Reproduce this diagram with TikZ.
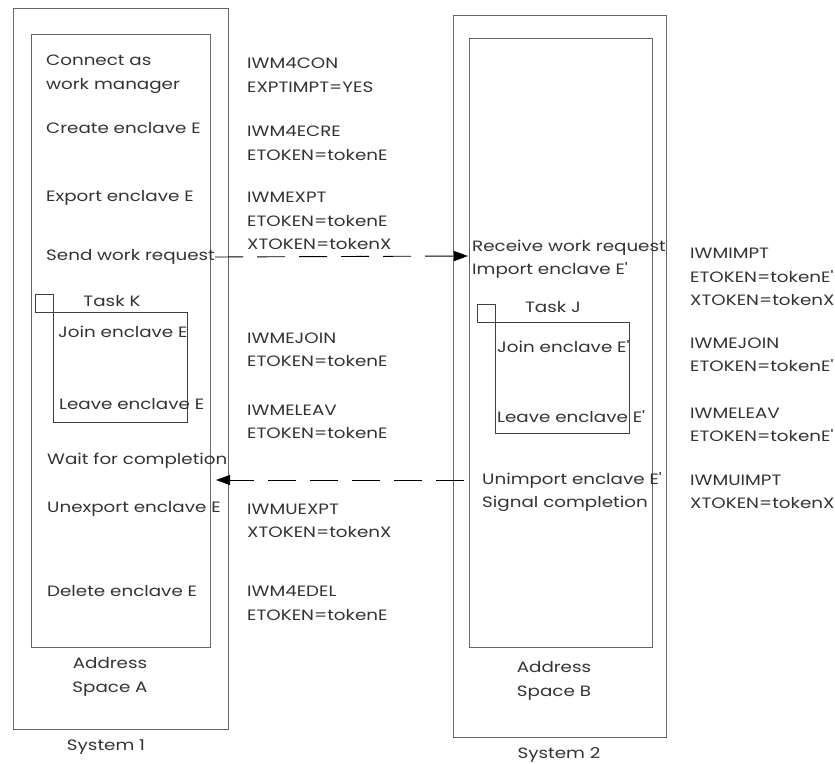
\documentclass[tikz,border=0pt]{standalone}
\usepackage{fontspec}
\setmainfont[Ligatures=TeXOff, FakeStretch=1.22]{Poppins}
\usetikzlibrary{positioning, arrows.meta}
\tikzset{
x=1pt, y=-1pt, % one unit is one pixel of the sketch, y grows downwards
frame/.style={draw=black!60, line width=1.2pt, anchor=north west, inner sep=0pt}, % system and address space boxes
task/.style={draw=black!75, line width=0.8pt, anchor=north west, inner sep=0pt}, % task boxes
lbl/.style={anchor=west, inner sep=0pt, text=black!80, align=left, font=\fontsize{15}{23.5}\selectfont}, % texts
undertext/.style={inner sep=0pt, text=black!80, align=center, font=\fontsize{15}{23.5}\selectfont}, % captions under boxes
flow/.style={-{Triangle[length=14pt,width=10pt]}, line width=0.9pt, dash pattern=on 28pt off 14pt}, % messages
}
\begin{document}
\begin{tikzpicture}
\useasboundingbox (0,0) rectangle (835,763);

% system 1
\node[frame, minimum width=215pt, minimum height=721pt] (sys1) at (13,8) {};
\node[frame, minimum width=179pt, minimum height=613pt] (asA) at (31,34) {};
\node[undertext] (capA) at (110,677) {Address\\Space A};
\node[undertext] (capS1) at (106,747) {System 1};

\node[lbl] (connect) at (46,74) {Connect as\\work manager};
\node[lbl] (create) at (46,128) {Create enclave E};
\node[lbl] (export) at (46,198) {Export enclave E};
\node[lbl] (send) at (46,257) {Send work request};
\node[task, minimum width=18pt, minimum height=18pt] (sqK) at (35,294) {};
\node[task, minimum width=134pt, minimum height=110pt] (taskK) at (53,312) {};
\node[undertext] (lblK) at (112,301) {Task K};
\node[lbl] (joinK) at (58,332) {Join enclave E};
\node[lbl] (leaveK) at (59,404) {Leave enclave E};
\node[lbl] (wait) at (47,461) {Wait for completion};
\node[lbl] (unexport) at (47,509) {Unexport enclave E};
\node[lbl] (delete) at (47,591) {Delete enclave E};

\node[lbl] (mCon) at (247,75) {IWM4CON\\EXPTIMPT=YES};
\node[lbl] (mCre) at (247,143) {IWM4ECRE\\ETOKEN=tokenE};
\node[lbl] (mExp) at (247,221) {IWMEXPT\\ETOKEN=tokenE\\XTOKEN=tokenX};
\node[lbl] (mJoinK) at (247,350) {IWMEJOIN\\ETOKEN=tokenE};
\node[lbl] (mLeaveK) at (247,422) {IWMELEAV\\ETOKEN=tokenE};
\node[lbl] (mUnexp) at (247,521) {IWMUEXPT\\XTOKEN=tokenX};
\node[lbl] (mDel) at (247,603) {IWM4EDEL\\ETOKEN=tokenE};

% system 2
\node[frame, minimum width=213pt, minimum height=722pt] (sys2) at (453,15) {};
\node[frame, minimum width=183pt, minimum height=609pt] (asB) at (469,38) {};
\node[undertext] (capB) at (554,681) {Address\\Space B};
\node[undertext] (capS2) at (559,755) {System 2};

\node[lbl] (recv) at (472,259) {Receive work request\\Import enclave E'};
\node[task, minimum width=18pt, minimum height=18pt] (sqJ) at (477,304) {};
\node[task, minimum width=134pt, minimum height=111pt] (taskJ) at (495,322) {};
\node[undertext] (lblJ) at (553,307) {Task J};
\node[lbl] (joinJ) at (497,347) {Join enclave E'};
\node[lbl] (leaveJ) at (497,417) {Leave enclave E'};
\node[lbl] (unimp) at (482,492) {Unimport enclave E'\\Signal completion};

\node[lbl] (mImp) at (690,277) {IWMIMPT\\ETOKEN=tokenE'\\XTOKEN=tokenX};
\node[lbl] (mJoinJ) at (690,355) {IWMEJOIN\\ETOKEN=tokenE'};
\node[lbl] (mLeaveJ) at (690,425) {IWMELEAV\\ETOKEN=tokenE'};
\node[lbl] (mUnimp) at (690,492) {IWMUIMPT\\XTOKEN=tokenX};

% messages between the systems
\coordinate (sendEnd) at (468,256);
\coordinate (unimpStart) at (464,480);
\coordinate (waitEnd) at (216,480);
\draw[flow] (send.east) -- (sendEnd);
\draw[flow] (unimpStart) -- (waitEnd);
\end{tikzpicture}
\end{document}
